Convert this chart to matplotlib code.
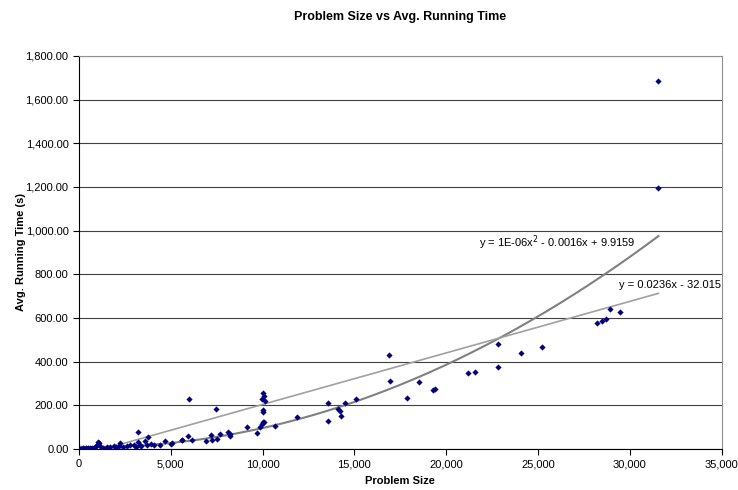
import numpy as np
import matplotlib.pyplot as plt
from matplotlib.ticker import FuncFormatter, MultipleLocator

# Data (problem size, avg. running time in s)
problem_size = [
    50, 100, 150, 200, 250, 300, 400, 500, 600, 700, 800, 900, 1000, 1050, 1100,
    1150, 1300, 1500, 1700, 1900, 2000, 2200, 2230, 2400, 2600, 2800, 3000, 3100,
    3190, 3220, 3300, 3400, 3580, 3700, 3760, 3900, 4100, 4400, 4710, 5030, 5090,
    5590, 5610, 5940, 5970, 6150, 6930, 7180, 7240, 7460, 7490, 7670, 8130, 8200,
    8220, 9160, 9700, 9870, 9970, 9980, 10000, 10010, 10010, 10010, 10050, 10100,
    10140, 10680, 11880, 13540, 13580, 14120, 14210, 14260, 14480, 15110, 16870,
    16920, 17850, 18500, 19290, 19380, 21180, 21560, 22790, 22790, 24070, 25210,
    28220, 28470, 28670, 28900, 29480, 31550, 31550,
]
running_time = [
    1, 2, 1, 3, 2, 2, 3, 4, 3, 5, 6, 8, 20, 33, 29,
    12, 6, 8, 10, 14, 9, 12, 29, 11, 14, 16, 18, 10,
    76, 33, 20, 15, 38, 18, 56, 22, 20, 18, 35, 23, 27,
    41, 41, 61, 229, 41, 38, 64, 41, 183, 44, 70, 76, 69,
    60, 102, 73, 102, 115, 228, 124, 255, 179, 171, 122, 244,
    221, 107, 148, 211, 130, 183, 175, 153, 212, 229, 431,
    313, 232, 305, 270, 275, 347, 354, 480, 374, 441, 469,
    576, 588, 594, 643, 629, 1683, 1195,
]

# Excel trendline coefficients (from the labels)
poly_coef = [1.02e-6, -0.0016, 9.9159]
lin_coef = [0.0236, -32.015]

plt.rcParams['font.family'] = ['Liberation Sans', 'DejaVu Sans']

fig = plt.figure(figsize=(7.38, 4.9), dpi=100)
ax = fig.add_axes([0.107, 0.0837, 0.871, 0.8023])

ax.scatter(problem_size, running_time, marker='D', s=10, color='#000080', zorder=3, linewidths=0)

xs = np.linspace(0, max(problem_size), 200)
ax.plot(xs, np.polyval(poly_coef, xs), color='#808080', lw=1.5, zorder=2)
ax.plot(xs, np.polyval(lin_coef, xs), color='#a0a0a0', lw=1.2, zorder=2)

ax.text(21770, 943, 'y = 1E-06x$^2$ - 0.0016x + 9.9159', fontsize=8, va='center')
ax.text(29380, 751, 'y = 0.0236x - 32.015', fontsize=8, va='center')

ax.set_xlim(0, 35000)
ax.set_ylim(0, 1800)
ax.xaxis.set_major_locator(MultipleLocator(5000))
ax.yaxis.set_major_locator(MultipleLocator(200))
ax.xaxis.set_major_formatter(FuncFormatter(lambda v, p: f'{v:,.0f}'))
ax.yaxis.set_major_formatter(FuncFormatter(lambda v, p: f'{v:,.2f}'))
ax.tick_params(labelsize=8, direction='out', length=4, width=0.8)

ax.grid(True, axis='y', color='#404040', lw=0.8)
ax.set_axisbelow(True)
ax.spines['left'].set_color('black')
ax.spines['bottom'].set_color('black')
ax.spines['top'].set_color('#909090')
ax.spines['right'].set_color('#909090')

ax.set_title('Problem Size vs Avg. Running Time', fontsize=9, fontweight='bold', pad=26)
ax.set_xlabel('Problem Size', fontsize=8, fontweight='bold', labelpad=5)
ax.set_ylabel('Avg. Running Time (s)', fontsize=8, fontweight='bold', labelpad=0)

fig.savefig('out.png', dpi=100)
